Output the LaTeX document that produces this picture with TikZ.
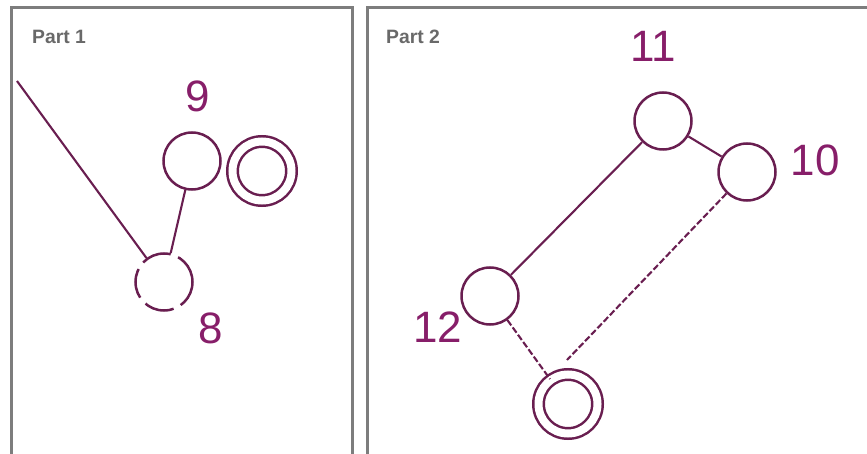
\documentclass[tikz,border=0pt]{standalone}
\usepackage{fontspec}
\setmainfont{Liberation Sans}
\usetikzlibrary{positioning}
\definecolor{plum}{RGB}{135,30,105}
\definecolor{wire}{RGB}{105,30,80}
\definecolor{rim}{RGB}{125,125,125}
\definecolor{caption}{RGB}{105,105,105}
\tikzset{
  state/.style={circle,draw=wire,line width=0.5mm,minimum size=11.4mm,inner sep=0pt},
  accept/.style={state,double,double distance=1.6mm,minimum size=11.8mm},
  broken/.style={state,dash pattern=on 6mm off 1.6mm},
  link/.style={draw=wire,line width=0.42mm},
  dlink/.style={link,dash pattern=on 1.3mm off 0.5mm},
  num/.style={text=plum,font=\fontsize{25}{28}\selectfont},
  panel/.style={draw=rim,line width=0.6mm},
  part/.style={text=caption,font=\fontsize{11}{13}\selectfont\bfseries,anchor=west},
}
\begin{document}
\begin{tikzpicture}[x=0.2mm,y=-0.2mm]
  \useasboundingbox (0,0) rectangle (867,454);
  \clip (0,0) rectangle (867,454);
  % frames
  \draw[panel] (11,8) rectangle (352,470);
  \draw[panel] (367,8) rectangle (880,470);
  \node[part] (p1) at (26,37) {Part 1};
  \node[part] (p2) at (380,37) {Part 2};

  % part 1
  \node[state] (n9) at (192,161) {};
  \node[accept] (a1) at (262,171) {};
  \node[broken] (n8) at (164,282) {};
  \node[num] (l9) at (198,96) {9};
  \node[num] (l8) at (211,328) {8};
  \coordinate (in) at (17,81);
  \draw[link] (in) -- (n8);
  \draw[link] (n9) -- (n8);

  % part 2
  \node[state] (n11) at (663,121) {};
  \node[state] (n10) at (747,172) {};
  \node[state] (n12) at (490,296) {};
  \node[accept] (a2) at (568,404) {};
  \node[num] (l11) at (653,46) {11};
  \node[num] (l10) at (815,160) {10};
  \node[num] (l12) at (438,327) {12};
  \coordinate (hook) at (567,360);
  \draw[link] (n11) -- (n10);
  \draw[link] (n11) -- (n12);
  \draw[dlink] (n12) -- (a2);
  \draw[dlink] (n10) -- (hook);
\end{tikzpicture}
\end{document}
